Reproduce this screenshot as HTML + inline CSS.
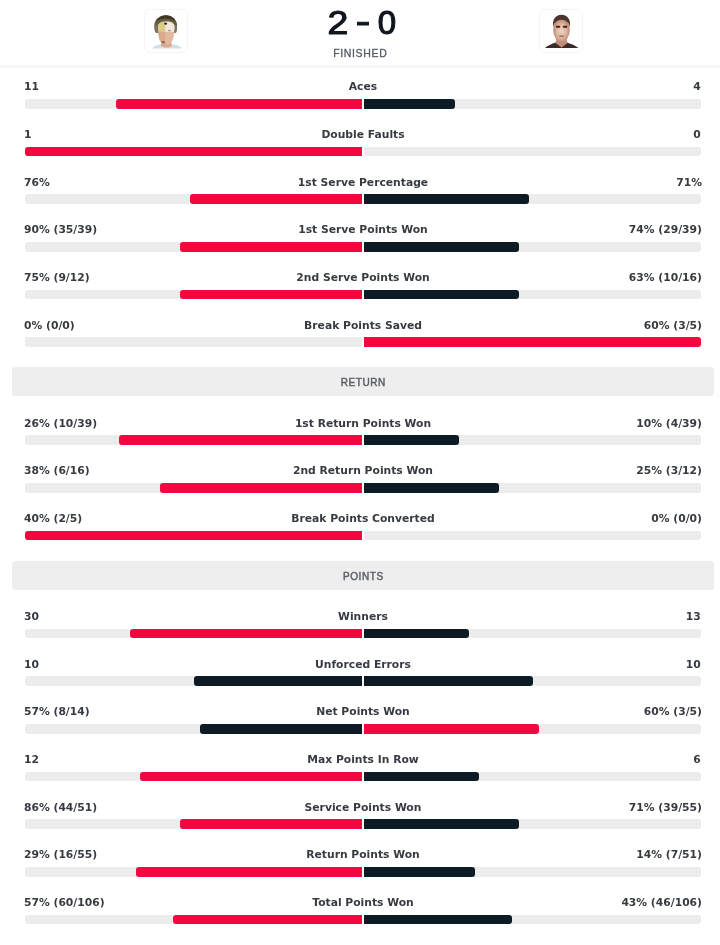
<!DOCTYPE html>
<html lang="en"><head><meta charset="utf-8"><title>Match statistics</title>
<style>
html,body{margin:0;padding:0;background:#fff}
body{width:720px;height:945px;position:relative;overflow:hidden;filter:blur(0.4px);font-family:"DejaVu Sans","Liberation Sans",sans-serif;color:#363b42}
.abs{position:absolute}
.t{position:absolute;font-weight:bold;font-size:10.75px;line-height:14px;height:14px;white-space:nowrap;color:#363b42}
.tl{left:24px;text-align:left}
.tr{right:18px;text-align:right}
.tc{left:163px;width:400px;text-align:center}
.trk{position:absolute;height:9.5px;background:#ececec}
.trk.l{left:25.0px;width:337.2px;border-radius:3px 0 0 3px}
.trk.r{left:364.4px;width:336.5px;border-radius:0 3px 3px 0}
.fill{position:absolute;top:0;height:100%}
.l .fill{right:0;border-radius:3px 0 0 3px}
.r .fill{left:0;border-radius:0 3px 3px 0}
.red{background:#f2083f}
.dark{background:#0c1b24}
.band{position:absolute;left:12px;width:702px;height:28.9px;background:#eeeeee;border-radius:3px}
.band span{position:absolute;left:0;right:0;top:8.75px;line-height:14px;text-align:center;font-family:"Liberation Sans",sans-serif;font-size:10px;letter-spacing:0.6px;padding-left:0.6px;color:#5a5f66;-webkit-text-stroke:0.45px #5a5f66}
.hr{position:absolute;left:0;width:720px;top:65.1px;height:3.4px;background:#f6f6f6}
.score{position:absolute;left:0;top:0;width:720px;height:40px;font-family:"Liberation Sans",sans-serif;font-size:33.4px;line-height:40px;color:#10161d;-webkit-text-stroke:1.1px #10161d}
.score span{position:absolute;top:2.6px;width:40px;text-align:center;transform:scaleX(1.12);transform-origin:50% 50%}
.fin{position:absolute;left:260.3px;width:200px;top:46.2px;text-align:center;font-family:"Liberation Sans",sans-serif;font-size:10.5px;line-height:14px;letter-spacing:0.65px;color:#555b63;-webkit-text-stroke:0.3px #555b63}
.av{position:absolute;top:8.7px;width:42px;height:42px;border:1px solid #f4f5f7;border-radius:6px;background:#fff;overflow:hidden}
</style></head><body>

<div class="av" style="left:143.7px"><svg width="42" height="42" viewBox="0 0 42 42">
<defs><filter id="bl" x="-20%" y="-20%" width="140%" height="140%"><feGaussianBlur stdDeviation="0.6"/></filter>
<clipPath id="fc"><path d="M13 17 Q13 11.600 21.200 11.600 Q29.500 11.600 29.500 17 L28.800 26 Q27.500 34.500 21.200 34.500 Q15 34.500 13.700 26 Z"/></clipPath></defs>
<g filter="url(#bl)">
<path d="M7.500 38.600 Q9 35.200 15.500 34.600 L27.500 34.600 Q35 35.200 37 38.600 Z" fill="#cfe0ea"/>
<path d="M16.500 30 L26 30 L27 36 Q21.500 39 15.800 36 Z" fill="#dba98f"/>
<ellipse cx="20.700" cy="15.600" rx="11.400" ry="10.300" fill="#665d45"/>
<path d="M9.400 16 Q9.200 22.500 11.500 23 L14 22.500 L14 14Z" fill="#7a725c"/>
<path d="M32 16 Q32.200 22.500 30.500 23 L28 22.500 L28 14Z" fill="#7a725c"/>
<path d="M11 11.500 Q15 4.800 21 5.300 Q27.500 5 30.500 11.500 Q25 8 21 8.500 Q16 8 11 11.500Z" fill="#3a3424"/>
<g clip-path="url(#fc)">
<rect x="12" y="10" width="20" height="26" fill="#e3b99f"/>
<rect x="12" y="10" width="8.100" height="11.800" fill="#dccb86"/>
<rect x="20.100" y="10" width="12" height="11.800" fill="#f1e8dc"/>
<rect x="12" y="21.800" width="8.100" height="13" fill="#d9ab8d"/>
<ellipse cx="17.800" cy="32.300" rx="2.600" ry="1.300" fill="#7a5040" opacity=".7"/>
<ellipse cx="24.300" cy="20.600" rx="1.500" ry=".8" fill="#8b8577" opacity=".8"/>
</g>
<ellipse cx="20.600" cy="13.700" rx="1.500" ry="1.100" fill="#2a261c"/>
</g></svg></div>
<div class="av" style="left:538.5px"><svg width="42" height="42" viewBox="0 0 42 42">
<g filter="url(#bl)">
<path d="M5 38 Q9 34.500 16 32.500 L21.500 36.500 L27 32.500 Q34 34.500 38.500 38 Z" fill="#3b2b29"/>
<path d="M17 27 L26 27 L27.500 33 L21.500 37.500 L15.500 33 Z" fill="#c48e76"/>
<radialGradient id="fg" cx="50%" cy="55%" r="55%"><stop offset="0" stop-color="#efd3c2"/><stop offset=".55" stop-color="#dcb49e"/><stop offset="1" stop-color="#b27a63"/></radialGradient>
<ellipse cx="21.500" cy="19.800" rx="8.300" ry="12" fill="url(#fg)"/>
<path d="M13 17 Q12 5.500 21.500 4.800 Q31 5.500 30 17 Q28.500 10 21.500 9.800 Q14.500 10 13 17Z" fill="#4c352d"/>
<rect x="15.800" y="15.800" width="4.500" height="2" rx="1" fill="#3a2622"/>
<rect x="22.800" y="15.800" width="4.500" height="2" rx="1" fill="#3a2622"/>
<rect x="19" y="25.500" width="5" height="1.200" rx=".6" fill="#9a5f52"/>
</g></svg></div>
<div class="score"><span style="left:317.9px">2</span><span style="left:342.7px;top:1.0px;transform:scale(1.3,1.06)">-</span><span style="left:366.8px;transform:scaleX(0.99)">0</span></div>
<div class="fin">FINISHED</div>
<div class="hr"></div>

<div class="t tl" style="top:80.30px">11</div>
<div class="t tc" style="top:80.30px">Aces</div>
<div class="t tr" style="top:80.30px;right:19.2px">4</div>
<div class="trk l" style="top:99.10px"><div class="fill red" style="width:246.16px"></div></div>
<div class="trk r" style="top:99.10px"><div class="fill dark" style="width:90.86px"></div></div>
<div class="t tl" style="top:127.95px">1</div>
<div class="t tc" style="top:127.95px">Double Faults</div>
<div class="t tr" style="top:127.95px;right:19.2px">0</div>
<div class="trk l" style="top:146.75px"><div class="fill red" style="width:337.20px"></div></div>
<div class="trk r" style="top:146.75px"></div>
<div class="t tl" style="top:175.60px">76%</div>
<div class="t tc" style="top:175.60px">1st Serve Percentage</div>
<div class="t tr" style="top:175.60px">71%</div>
<div class="trk l" style="top:194.40px"><div class="fill red" style="width:171.97px"></div></div>
<div class="trk r" style="top:194.40px"><div class="fill dark" style="width:164.88px"></div></div>
<div class="t tl" style="top:223.25px">90% (35/39)</div>
<div class="t tc" style="top:223.25px">1st Serve Points Won</div>
<div class="t tr" style="top:223.25px">74% (29/39)</div>
<div class="trk l" style="top:242.05px"><div class="fill red" style="width:182.09px"></div></div>
<div class="trk r" style="top:242.05px"><div class="fill dark" style="width:154.79px"></div></div>
<div class="t tl" style="top:270.90px">75% (9/12)</div>
<div class="t tc" style="top:270.90px">2nd Serve Points Won</div>
<div class="t tr" style="top:270.90px">63% (10/16)</div>
<div class="trk l" style="top:289.70px"><div class="fill red" style="width:182.09px"></div></div>
<div class="trk r" style="top:289.70px"><div class="fill dark" style="width:154.79px"></div></div>
<div class="t tl" style="top:318.55px">0% (0/0)</div>
<div class="t tc" style="top:318.55px">Break Points Saved</div>
<div class="t tr" style="top:318.55px">60% (3/5)</div>
<div class="trk l" style="top:337.35px"></div>
<div class="trk r" style="top:337.35px"><div class="fill red" style="width:336.50px"></div></div>
<div class="band" style="top:367.40px"><span>RETURN</span></div>
<div class="t tl" style="top:416.60px">26% (10/39)</div>
<div class="t tc" style="top:416.60px">1st Return Points Won</div>
<div class="t tr" style="top:416.60px">10% (4/39)</div>
<div class="trk l" style="top:435.40px"><div class="fill red" style="width:242.78px"></div></div>
<div class="trk r" style="top:435.40px"><div class="fill dark" style="width:94.22px"></div></div>
<div class="t tl" style="top:464.25px">38% (6/16)</div>
<div class="t tc" style="top:464.25px">2nd Return Points Won</div>
<div class="t tr" style="top:464.25px">25% (3/12)</div>
<div class="trk l" style="top:483.05px"><div class="fill red" style="width:202.32px"></div></div>
<div class="trk r" style="top:483.05px"><div class="fill dark" style="width:134.60px"></div></div>
<div class="t tl" style="top:511.90px">40% (2/5)</div>
<div class="t tc" style="top:511.90px">Break Points Converted</div>
<div class="t tr" style="top:511.90px">0% (0/0)</div>
<div class="trk l" style="top:530.70px"><div class="fill red" style="width:337.20px"></div></div>
<div class="trk r" style="top:530.70px"></div>
<div class="band" style="top:560.80px"><span>POINTS</span></div>
<div class="t tl" style="top:610.00px">30</div>
<div class="t tc" style="top:610.00px">Winners</div>
<div class="t tr" style="top:610.00px;right:19.2px">13</div>
<div class="trk l" style="top:628.80px"><div class="fill red" style="width:232.67px"></div></div>
<div class="trk r" style="top:628.80px"><div class="fill dark" style="width:104.32px"></div></div>
<div class="t tl" style="top:657.65px">10</div>
<div class="t tc" style="top:657.65px">Unforced Errors</div>
<div class="t tr" style="top:657.65px;right:19.2px">10</div>
<div class="trk l" style="top:676.45px"><div class="fill dark" style="width:168.60px"></div></div>
<div class="trk r" style="top:676.45px"><div class="fill dark" style="width:168.25px"></div></div>
<div class="t tl" style="top:705.30px">57% (8/14)</div>
<div class="t tc" style="top:705.30px">Net Points Won</div>
<div class="t tr" style="top:705.30px">60% (3/5)</div>
<div class="trk l" style="top:724.10px"><div class="fill dark" style="width:161.86px"></div></div>
<div class="trk r" style="top:724.10px"><div class="fill red" style="width:174.98px"></div></div>
<div class="t tl" style="top:752.95px">12</div>
<div class="t tc" style="top:752.95px">Max Points In Row</div>
<div class="t tr" style="top:752.95px;right:19.2px">6</div>
<div class="trk l" style="top:771.75px"><div class="fill red" style="width:222.55px"></div></div>
<div class="trk r" style="top:771.75px"><div class="fill dark" style="width:114.41px"></div></div>
<div class="t tl" style="top:800.60px">86% (44/51)</div>
<div class="t tc" style="top:800.60px">Service Points Won</div>
<div class="t tr" style="top:800.60px">71% (39/55)</div>
<div class="trk l" style="top:819.40px"><div class="fill red" style="width:182.09px"></div></div>
<div class="trk r" style="top:819.40px"><div class="fill dark" style="width:154.79px"></div></div>
<div class="t tl" style="top:848.25px">29% (16/55)</div>
<div class="t tc" style="top:848.25px">Return Points Won</div>
<div class="t tr" style="top:848.25px">14% (7/51)</div>
<div class="trk l" style="top:867.05px"><div class="fill red" style="width:225.92px"></div></div>
<div class="trk r" style="top:867.05px"><div class="fill dark" style="width:111.04px"></div></div>
<div class="t tl" style="top:895.90px">57% (60/106)</div>
<div class="t tc" style="top:895.90px">Total Points Won</div>
<div class="t tr" style="top:895.90px">43% (46/106)</div>
<div class="trk l" style="top:914.70px"><div class="fill red" style="width:188.83px"></div></div>
<div class="trk r" style="top:914.70px"><div class="fill dark" style="width:148.06px"></div></div>
</body></html>
